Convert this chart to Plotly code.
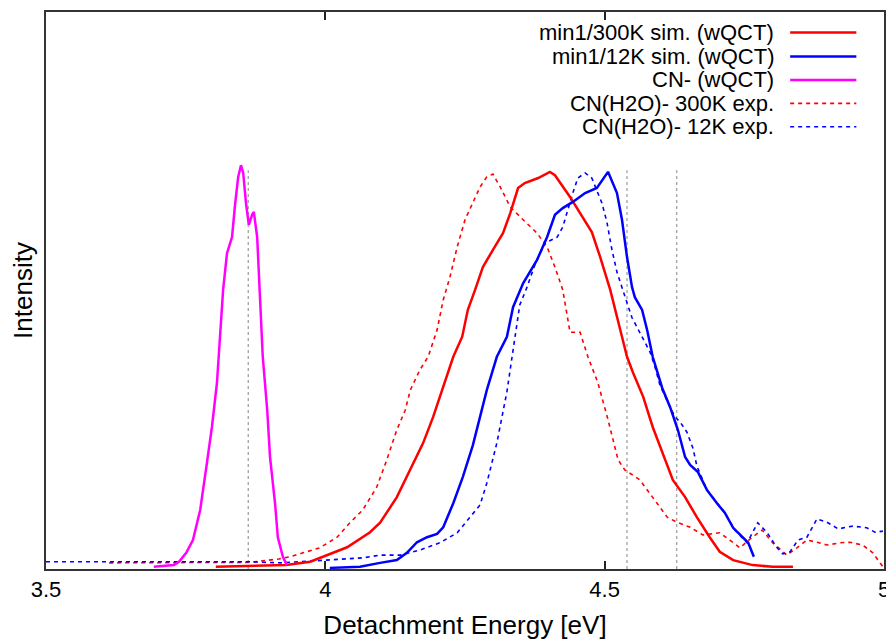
import plotly.graph_objects as go

# Detachment energy (eV) / normalised intensity
cn_x = [3.693, 3.729, 3.738, 3.751, 3.763, 3.772, 3.776, 3.788, 3.797, 3.806, 3.811, 3.817, 3.824, 3.833,
        3.838, 3.844, 3.849, 3.853, 3.858, 3.863, 3.869, 3.872, 3.878, 3.883, 3.888, 3.896, 3.901, 3.910,
        3.915, 3.924, 3.931]
cn_y = [0.004, 0.007, 0.013, 0.029, 0.052, 0.088, 0.106, 0.190, 0.255, 0.334, 0.417, 0.501, 0.567, 0.596,
        0.650, 0.704, 0.725, 0.711, 0.657, 0.618, 0.636, 0.641, 0.596, 0.496, 0.381, 0.285, 0.201, 0.118,
        0.057, 0.022, 0.007]

sim300_x = [3.804, 3.930, 3.973, 3.996, 4.039, 4.080, 4.098, 4.128, 4.152, 4.175, 4.193, 4.218, 4.229, 4.245,
            4.255, 4.268, 4.282, 4.300, 4.318, 4.331, 4.345, 4.357, 4.381, 4.402, 4.411, 4.438, 4.461, 4.477,
            4.492, 4.510, 4.531, 4.540, 4.551, 4.569, 4.586, 4.604, 4.622, 4.644, 4.665, 4.688, 4.706, 4.730,
            4.765, 4.801, 4.837]
sim300_y = [0.004, 0.007, 0.013, 0.022, 0.039, 0.066, 0.083, 0.129, 0.178, 0.226, 0.273, 0.346, 0.381, 0.417,
            0.465, 0.501, 0.542, 0.573, 0.603, 0.639, 0.684, 0.693, 0.702, 0.713, 0.707, 0.668, 0.632, 0.605,
            0.560, 0.501, 0.417, 0.381, 0.352, 0.309, 0.255, 0.208, 0.160, 0.129, 0.093, 0.057, 0.031, 0.016,
            0.007, 0.004, 0.004]

sim12_x = [4.008, 4.062, 4.098, 4.128, 4.146, 4.164, 4.182, 4.200, 4.211, 4.229, 4.246, 4.264, 4.289, 4.307,
           4.325, 4.336, 4.354, 4.379, 4.397, 4.411, 4.425, 4.443, 4.465, 4.486, 4.506, 4.522, 4.531, 4.540,
           4.549, 4.554, 4.567, 4.576, 4.586, 4.603, 4.617, 4.631, 4.644, 4.653, 4.667, 4.683, 4.701, 4.715,
           4.730, 4.748, 4.757, 4.767]
sim12_y = [0.002, 0.004, 0.011, 0.016, 0.029, 0.048, 0.057, 0.063, 0.075, 0.118, 0.165, 0.222, 0.321, 0.381,
           0.417, 0.470, 0.513, 0.555, 0.596, 0.636, 0.648, 0.659, 0.675, 0.684, 0.713, 0.675, 0.627, 0.560,
           0.506, 0.488, 0.465, 0.429, 0.381, 0.325, 0.291, 0.250, 0.201, 0.187, 0.174, 0.142, 0.118, 0.101,
           0.074, 0.057, 0.047, 0.022]

exp300_x = [3.613, 3.686, 3.776, 3.865, 3.917, 3.937, 3.960, 3.990, 4.021, 4.044, 4.067, 4.092, 4.110, 4.128,
            4.143, 4.152, 4.169, 4.184, 4.200, 4.211, 4.223, 4.236, 4.250, 4.264, 4.277, 4.289, 4.300, 4.313,
            4.331, 4.354, 4.379, 4.397, 4.411, 4.425, 4.438, 4.456, 4.470, 4.488, 4.506, 4.524, 4.536, 4.563,
            4.586, 4.612, 4.629, 4.653, 4.676, 4.706, 4.724, 4.742, 4.764, 4.782, 4.801, 4.826, 4.844, 4.862,
            4.880, 4.898, 4.921, 4.939, 4.962, 4.980, 4.998]
exp300_y = [0.011, 0.011, 0.011, 0.012, 0.018, 0.022, 0.029, 0.038, 0.057, 0.083, 0.106, 0.147, 0.196, 0.250,
            0.285, 0.321, 0.357, 0.381, 0.429, 0.483, 0.524, 0.578, 0.627, 0.657, 0.686, 0.704, 0.709, 0.686,
            0.650, 0.627, 0.603, 0.578, 0.542, 0.501, 0.425, 0.425, 0.381, 0.334, 0.268, 0.196, 0.178, 0.160,
            0.129, 0.093, 0.084, 0.075, 0.061, 0.065, 0.052, 0.038, 0.057, 0.070, 0.047, 0.025, 0.038, 0.052,
            0.048, 0.043, 0.047, 0.048, 0.043, 0.029, 0.004]

exp12_x = [3.500, 3.597, 3.686, 3.776, 3.865, 3.919, 4.008, 4.067, 4.098, 4.134, 4.169, 4.205, 4.236, 4.259,
           4.277, 4.289, 4.307, 4.325, 4.336, 4.348, 4.361, 4.375, 4.393, 4.415, 4.425, 4.434, 4.443, 4.452,
           4.465, 4.477, 4.486, 4.495, 4.504, 4.513, 4.522, 4.531, 4.540, 4.549, 4.563, 4.581, 4.590, 4.599,
           4.617, 4.626, 4.635, 4.647, 4.658, 4.665, 4.683, 4.701, 4.715, 4.733, 4.755, 4.765, 4.774, 4.791,
           4.808, 4.819, 4.832, 4.846, 4.862, 4.880, 4.898, 4.918, 4.944, 4.969, 4.984, 4.998]
exp12_y = [0.013, 0.013, 0.013, 0.013, 0.013, 0.011, 0.016, 0.020, 0.025, 0.025, 0.034, 0.047, 0.065, 0.093,
           0.115, 0.154, 0.226, 0.318, 0.393, 0.474, 0.506, 0.546, 0.585, 0.596, 0.614, 0.645, 0.675, 0.702,
           0.711, 0.702, 0.680, 0.657, 0.623, 0.573, 0.533, 0.504, 0.478, 0.451, 0.425, 0.390, 0.363, 0.330,
           0.291, 0.273, 0.264, 0.246, 0.217, 0.185, 0.142, 0.118, 0.101, 0.070, 0.047, 0.066, 0.083, 0.065,
           0.039, 0.027, 0.031, 0.052, 0.057, 0.090, 0.084, 0.072, 0.077, 0.074, 0.066, 0.068]

# dotted reference energies
vline_x = [3.862, 4.540, 4.629]
vline_top = 0.716

xtick_vals = [3.5, 4, 4.5, 5]
xtick_text = ['3.5', '4', '4.5', '5']

labels = ['min1/300K sim. (wQCT)', 'min1/12K sim. (wQCT)', 'CN- (wQCT)',
          'CN(H2O)- 300K exp.', 'CN(H2O)- 12K exp.']
colors = ['#ff0000', '#0000ff', '#ff00ff', '#ff0000', '#0000ff']
dashes = ['solid', 'solid', 'solid', '4px,4px', '4px,4px']

FONT = 'Liberation Sans, Arial, sans-serif'

fig = go.Figure()

# reference lines first so the curves sit on top
vx, vy = [], []
for v in vline_x:
    vx += [v, v, None]
    vy += [0, vline_top, None]
fig.add_trace(go.Scatter(x=vx, y=vy, mode='lines',
                         line=dict(color='#9a9a9a', width=1.2, dash='dot'), hoverinfo='skip'))

series = [(sim300_x, sim300_y), (sim12_x, sim12_y), (cn_x, cn_y), (exp300_x, exp300_y), (exp12_x, exp12_y)]
order = [3, 4, 0, 1, 2]
for i in order:
    xs, ys = series[i]
    w = 2.5 if dashes[i] == 'solid' else 1.6
    fig.add_trace(go.Scatter(x=xs, y=ys, mode='lines', name=labels[i],
                             line=dict(color=colors[i], width=w, dash=dashes[i])))

# gnuplot-style key: right aligned text, sample on the right
row_y = [0.963, 0.920, 0.878, 0.836, 0.794]
for i, lab in enumerate(labels):
    fig.add_annotation(x=0.870, y=row_y[i], xref='paper', yref='paper', text=lab, showarrow=False,
                       xanchor='right', yanchor='middle', borderpad=0,
                       font=dict(family=FONT, size=22, color='black'))
    fig.add_shape(type='line', xref='paper', yref='paper', x0=0.888, x1=0.967, y0=row_y[i], y1=row_y[i],
                  line=dict(color=colors[i], width=2.5 if dashes[i] == 'solid' else 1.6, dash=dashes[i]))

fig.update_xaxes(range=[3.5, 5], tickvals=xtick_vals, ticktext=xtick_text,
                 ticks='inside', ticklen=8, tickwidth=2, tickcolor='#222',
                 showline=True, linewidth=2, linecolor='#333', mirror='ticks',
                 showgrid=False, zeroline=False, automargin=False,
                 tickfont=dict(family=FONT, size=22, color='black'),
                 title=dict(text='Detachment Energy [eV]', font=dict(family=FONT, size=26, color='black'),
                            standoff=14))
fig.update_yaxes(range=[0, 1], showticklabels=False, ticks='',
                 showline=True, linewidth=2, linecolor='#333', mirror=True,
                 showgrid=False, zeroline=False, automargin=False,
                 title=dict(text='Intensity', font=dict(family=FONT, size=26, color='black'), standoff=6))

# the page adds an 8px body margin, so the figure is 8px smaller and margins compensate
fig.update_layout(width=886, height=634, showlegend=False,
                  margin=dict(l=38, r=10, t=4, b=73),
                  plot_bgcolor='white', paper_bgcolor='white')

fig.write_html("out.html")
